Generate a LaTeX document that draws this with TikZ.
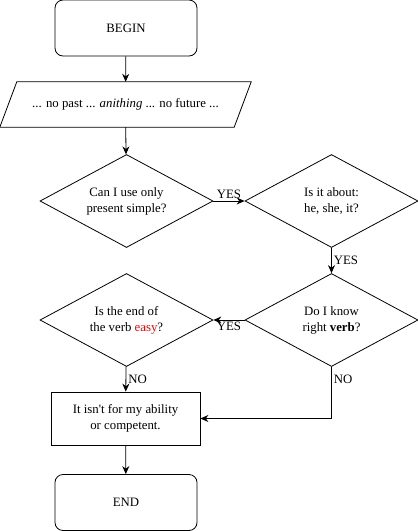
\documentclass[tikz,border=0pt]{standalone}
\usepackage{fontspec}
\setmainfont{Liberation Serif}
\usetikzlibrary{shapes.geometric,arrows.meta}
\tikzset{
  every node/.style={font=\rmfamily\fontsize{12.8}{16}\selectfont},
  term/.style={draw, rounded corners=8pt, minimum width=142pt, minimum height=56pt, line width=0.8pt},
  decide/.style={draw, diamond, aspect=1.86, minimum width=173pt, minimum height=93pt, inner sep=0pt, align=center, line width=0.8pt},
  procbox/.style={draw, minimum width=149pt, minimum height=53pt, align=center, line width=0.8pt},
  flow/.style={line width=0.8pt, -{Stealth[length=8pt,width=7pt]}},
  lbl/.style={inner sep=2pt}
}
\begin{document}
\begin{tikzpicture}[x=1pt,y=-1pt]
\useasboundingbox (0,0) rectangle (418,531);
\node[term] (begin) at (126,28) {BEGIN};
\node[minimum width=234pt, minimum height=45pt, inner sep=0pt] (io) at (125.5,104.5) {... no past ... \textit{anithing} ... no future ...};
\draw[line width=0.8pt] ([xshift=8.5pt]io.north west) -- ([xshift=8.5pt]io.north east) -- ([xshift=-8.5pt]io.south east) -- ([xshift=-8.5pt]io.south west) -- cycle;
\node[decide] (d1) at (126.5,201) {Can I use only\\present simple?};
\node[decide] (d2) at (331.5,201) {Is it about:\\he, she, it?};
\node[decide] (d3) at (331.5,320) {Do I know\\right \textbf{verb}?};
\node[decide] (d4) at (126.5,320) {Is the end of\\the verb \textcolor{red}{easy}?};
\node[procbox] (proc) at (125.5,418.5) {It isn\textquotesingle t for my ability\\or competent.};
\node[term] (end) at (126,502.5) {END};

\draw[flow] (begin) -- (io);
\draw[flow] (io) -- (d1);
\draw[flow] (d1) -- node[lbl, above] {YES} (d2);
\draw[flow] (d2) -- node[lbl, right] {YES} (d3);
\draw[flow] (d3) -- node[lbl, below] {YES} (d4);
\draw[flow] (d4) -- node[lbl, right] {NO} (proc);
\draw[flow] (d3.south) |- node[lbl, right, pos=0.12] {NO} (proc.east);
\draw[flow] (proc) -- (end);
\end{tikzpicture}
\end{document}
